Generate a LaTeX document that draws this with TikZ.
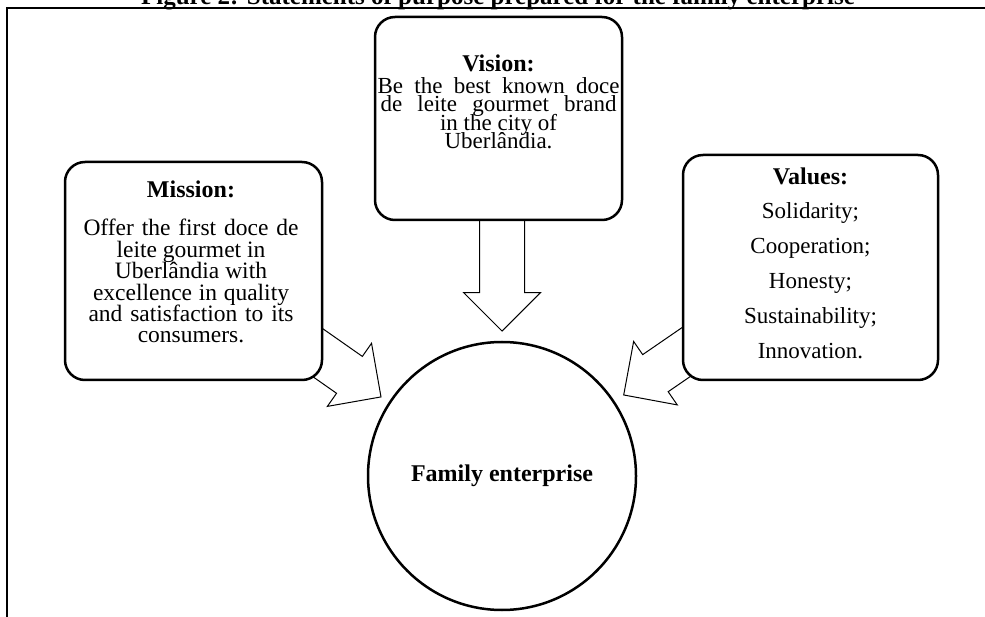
\documentclass[tikz,border=0pt]{standalone}
\usepackage{fontspec}
\setmainfont{Liberation Serif}
\usetikzlibrary{shapes.arrows,calc}

\begin{document}
\begin{tikzpicture}[x=1pt,y=-1pt,
	box/.style={draw, line width=2.5pt, rounded corners=20pt, fill=white},
	head/.style={anchor=base, inner sep=0pt, font={\fontsize{24}{24}\bfseries}},
	body/.style={anchor=base, align=center, inner sep=0pt, font={\fontsize{23.5}{21.4}\selectfont\lineskiplimit=-30pt}},
	bigarrow/.style={single arrow, draw, line width=1pt, fill=white, inner sep=0pt, inner ysep=22pt, single arrow head extend=16pt, single arrow tip angle=90, anchor=tip}]
	\useasboundingbox (0,0) rectangle (985,617);
	\clip (0,0) rectangle (985,617);
	% frame and caption
	\node[head, font={\fontsize{25}{25}\bfseries}] (caption) at (498,5) {Figure 2: Statements of purpose prepared for the family enterprise};
	\draw[line width=1.5pt] (985,8) -- (7,8) -- (7,617);
	% centre
	\node[draw, circle, line width=2.5pt, minimum size=268pt, inner sep=0pt, font={\fontsize{24}{24}\bfseries}] (family) at (502,476) {Family enterprise};
	% arrows
	\node[bigarrow, rotate=-90, minimum height=132pt] (visionarrow) at ($(family.north)+(0,-9)$) {};
	\node[bigarrow, rotate=-35, minimum height=110pt] (missionarrow) at ($(family.147)+(-7,-5)$) {};
	\node[bigarrow, rotate=-145.5, minimum height=110pt] (valuesarrow) at ($(family.34)+(9,-5)$) {};
	% boxes
	\node[box, minimum width=257pt, minimum height=218pt] (mission) at (193.5,271) {};
	\node[box, minimum width=247pt, minimum height=203pt] (vision) at (498.5,118.5) {};
	\node[box, minimum width=255pt, minimum height=225pt] (values) at (810.5,267.5) {};
	% texts (base = last line)
	\node[head] (missionhead) at (191,198) {Mission:};
	\node[body] (missiontext) at (191,343) {\makebox[215pt][s]{Offer the first doce de}\\ leite gourmet in\\ Uberlândia with\\ \makebox[196pt][s]{excellence in quality}\\ \makebox[205pt][s]{and satisfaction to its}\\ consumers.};
	\node[head] (visionhead) at (498.5,72) {Vision:};
	\node[body, font={\fontsize{23}{18.5}\selectfont\lineskiplimit=-30pt}] (visiontext) at (498.5,149) {\makebox[242pt][s]{Be the best known doce}\\ \makebox[236pt][s]{de leite gourmet brand}\\ in the city of\\ Uberlândia.};
	\node[head] (valueshead) at (810.5,185) {Values:};
	\node[body, font={\fontsize{23}{35}\selectfont}] (valuestext) at (810.5,359) {Solidarity;\\ Cooperation;\\ Honesty;\\ Sustainability;\\ Innovation.};
\end{tikzpicture}
\end{document}
